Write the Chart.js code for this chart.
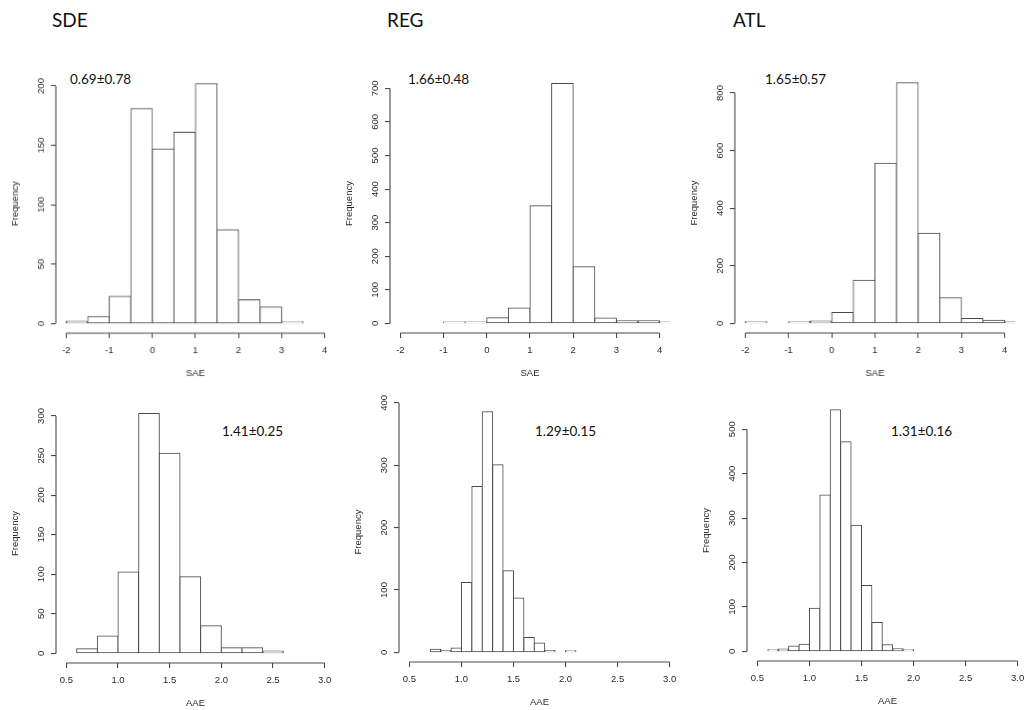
<!DOCTYPE html>
<html><head><meta charset="utf-8">
<script src="https://cdn.jsdelivr.net/npm/chart.js@4.4.1/dist/chart.umd.min.js"></script>
<style>
html,body{margin:0;padding:0;background:#fff;overflow:hidden;width:1026px;height:710px;position:relative}
canvas{position:absolute}
.t{position:absolute;font-family:Lato,'Open Sans',sans-serif;color:#111;white-space:nowrap;line-height:1.2}
</style></head><body>
<div class="t" style="left:52px;top:9px;font-size:19px">SDE</div>
<div class="t" style="left:387px;top:9px;font-size:19px">REG</div>
<div class="t" style="left:733px;top:9px;font-size:19px">ATL</div>
<div class="t" style="left:70px;top:71px;font-size:13.5px">0.69±0.78</div>
<div class="t" style="left:408px;top:71px;font-size:13.5px">1.66±0.48</div>
<div class="t" style="left:765px;top:71px;font-size:13.5px">1.65±0.57</div>
<div class="t" style="left:222px;top:423px;font-size:13.5px">1.41±0.25</div>
<div class="t" style="left:535px;top:423px;font-size:13.5px">1.29±0.15</div>
<div class="t" style="left:891px;top:423px;font-size:13.5px">1.31±0.16</div>
<canvas id="c1"></canvas><canvas id="c2"></canvas><canvas id="c3"></canvas>
<canvas id="c4"></canvas><canvas id="c5"></canvas><canvas id="c6"></canvas>
<script>
// ---- tick values and labels ----
const saeTicks = [-2, -1, 0, 1, 2, 3, 4];
const saeTickLabels = ['-2', '-1', '0', '1', '2', '3', '4'];
const aaeTicks = [0.5, 1.0, 1.5, 2.0, 2.5, 3.0];
const aaeTickLabels = ['0.5', '1.0', '1.5', '2.0', '2.5', '3.0'];

const freqTicksSdeSae = [0, 50, 100, 150, 200];
const freqTicksRegSae = [0, 100, 200, 300, 400, 500, 600, 700];
const freqTicksAtlSae = [0, 200, 400, 600, 800];
const freqTicksSdeAae = [0, 50, 100, 150, 200, 250, 300];
const freqTicksRegAae = [0, 100, 200, 300, 400];
const freqTicksAtlAae = [0, 100, 200, 300, 400, 500];

// ---- histogram bins (lower edges) and counts ----
const sdeSaeBins = [-2, -1.5, -1, -0.5, 0, 0.5, 1, 1.5, 2, 2.5, 3];
const sdeSaeCounts = [2, 6, 23, 181, 147, 161, 202, 79, 20, 14, 1];

const regSaeBins = [-1, -0.5, 0, 0.5, 1, 1.5, 2, 2.5, 3, 3.5, 4];
const regSaeCounts = [1, 3, 17, 46, 350, 714, 169, 16, 8, 8, 1];

const atlSaeBins = [-2, -1.5, -1, -0.5, 0, 0.5, 1, 1.5, 2, 2.5, 3, 3.5, 4];
const atlSaeCounts = [1, 0, 1, 8, 38, 150, 556, 836, 313, 89, 17, 11, 1];

const sdeAaeBins = [0.6, 0.8, 1.0, 1.2, 1.4, 1.6, 1.8, 2.0, 2.2, 2.4];
const sdeAaeCounts = [6, 22, 103, 303, 253, 97, 35, 7, 7, 3];

const regAaeBins = [0.7, 0.8, 0.9, 1.0, 1.1, 1.2, 1.3, 1.4, 1.5, 1.6, 1.7, 1.8, 1.9, 2.0];
const regAaeCounts = [5, 3, 7, 112, 266, 386, 301, 131, 87, 24, 15, 3, 0, 1];

const atlAaeBins = [0.6, 0.7, 0.8, 0.9, 1.0, 1.1, 1.2, 1.3, 1.4, 1.5, 1.6, 1.7, 1.8, 1.9];
const atlAaeCounts = [2, 5, 12, 16, 97, 352, 544, 472, 284, 148, 65, 15, 6, 2];

const binWidthSae = 0.5;
const binWidthSdeAae = 0.2;
const binWidthAae = 0.1;

// ---- panels: layout (plot region in page pixels) ----
const panels = [
  {id:'c1', bins:sdeSaeBins, counts:sdeSaeCounts, bw:binWidthSae, xlim:[-2,4], xTicks:saeTicks, xLabels:saeTickLabels, yTicks:freqTicksSdeSae, xTitle:'SAE', box:{l:55.6,t:73.5,r:335.4,b:333}},
  {id:'c2', bins:regSaeBins, counts:regSaeCounts, bw:binWidthSae, xlim:[-2,4], xTicks:saeTicks, xLabels:saeTickLabels, yTicks:freqTicksRegSae, xTitle:'SAE', box:{l:389.6,t:73.8,r:669.7,b:333}},
  {id:'c3', bins:atlSaeBins, counts:atlSaeCounts, bw:binWidthSae, xlim:[-2,4], xTicks:saeTicks, xLabels:saeTickLabels, yTicks:freqTicksAtlSae, xTitle:'SAE', box:{l:734.6,t:73.2,r:1015.4,b:333}},
  {id:'c4', bins:sdeAaeBins, counts:sdeAaeCounts, bw:binWidthSdeAae, xlim:[0.5,3], xTicks:aaeTicks, xLabels:aaeTickLabels, yTicks:freqTicksSdeAae, xTitle:'AAE', box:{l:56.4,t:403.7,r:335.3,b:663}},
  {id:'c5', bins:regAaeBins, counts:regAaeCounts, bw:binWidthAae, xlim:[0.5,3], xTicks:aaeTicks, xLabels:aaeTickLabels, yTicks:freqTicksRegAae, xTitle:'AAE', box:{l:398.6,t:401.5,r:679.7,b:661.5}},
  {id:'c6', bins:atlAaeBins, counts:atlAaeCounts, bw:binWidthAae, xlim:[0.5,3], xTicks:aaeTicks, xLabels:aaeTickLabels, yTicks:freqTicksAtlAae, xTitle:'AAE', box:{l:747.3,t:400.4,r:1028,b:661.5}}
];

const YW = 56, XH = 48, PT = 12, PR = 12;
const lineCol = '#4a4a4a';
const txtCol = '#2a2a2a';
const tickFont = {family:"'Liberation Sans', Arial, sans-serif", size:9.5};

// draws the R-style axis lines, spanning from first to last tick
const rAxisLines = {
  id:'rAxisLines',
  afterDraw(chart, args, opts) {
    const {ctx, chartArea, scales} = chart;
    const xs = scales.x, ys = scales.y;
    ctx.save();
    ctx.strokeStyle = lineCol;
    ctx.lineWidth = 1.1;
    ctx.beginPath();
    ctx.moveTo(xs.getPixelForValue(opts.xTicks[0]), chartArea.bottom);
    ctx.lineTo(xs.getPixelForValue(opts.xTicks[opts.xTicks.length-1]), chartArea.bottom);
    ctx.moveTo(chartArea.left, ys.getPixelForValue(opts.yTicks[0]));
    ctx.lineTo(chartArea.left, ys.getPixelForValue(opts.yTicks[opts.yTicks.length-1]));
    ctx.stroke();
    ctx.restore();
  }
};

panels.forEach(p => {
  const cv = document.getElementById(p.id);
  const w = (p.box.r - p.box.l) + YW + PR;
  const h = (p.box.b - p.box.t) + PT + XH;
  cv.style.left = (p.box.l - YW) + 'px';
  cv.style.top = (p.box.t - PT) + 'px';
  cv.style.width = w + 'px';
  cv.style.height = h + 'px';
  cv.width = Math.round(w); cv.height = Math.round(h);
  const ymax = Math.max(...p.counts);
  const xr = p.xlim[1] - p.xlim[0];
  new Chart(cv, {
    type:'bar',
    data:{datasets:[{
      data:p.bins.map((b,i)=>({x:b + p.bw/2, y:(p.counts[i] === 0 ? null : p.counts[i])})),
      backgroundColor:'#ffffff',
      borderColor:lineCol,
      borderWidth:1,
      borderSkipped:false,
      inflateAmount:0.5,
      minBarLength:1.5,
      barPercentage:1,
      categoryPercentage:1
    }]},
    options:{
      responsive:false,
      animation:false,
      events:[],
      layout:{padding:{top:PT, right:PR, left:0, bottom:0}},
      plugins:{legend:{display:false}, tooltip:{enabled:false}, rAxisLines:{xTicks:p.xTicks, yTicks:p.yTicks}},
      scales:{
        x:{
          type:'linear',
          offset:false,
          min:p.xlim[0] - 0.04*xr,
          max:p.xlim[1] + 0.04*xr,
          afterBuildTicks:s=>{ s.ticks = p.xTicks.map(v=>({value:v})); },
          afterFit:s=>{ s.height = XH; },
          ticks:{autoSkip:false, maxRotation:0, minRotation:0, padding:7, color:txtCol, font:tickFont,
                 callback:(v,i)=>p.xLabels[i]},
          grid:{display:true, offset:false, drawOnChartArea:false, drawTicks:true, tickLength:5, color:lineCol, lineWidth:1.1},
          border:{display:false},
          title:{display:true, text:p.xTitle, color:txtCol, font:tickFont, padding:{top:0,bottom:2.3}}
        },
        y:{
          type:'linear',
          min:-0.04*ymax,
          max:1.04*ymax,
          afterBuildTicks:s=>{ s.ticks = p.yTicks.map(v=>({value:v})); },
          afterFit:s=>{ s.width = YW; },
          ticks:{autoSkip:false, minRotation:90, maxRotation:90, crossAlign:'center', padding:2, color:txtCol, font:tickFont,
                 callback:(v,i)=>String(p.yTicks[i])},
          grid:{display:true, drawOnChartArea:false, drawTicks:true, tickLength:5, color:lineCol, lineWidth:1.1},
          border:{display:false},
          title:{display:true, text:'Frequency', color:txtCol, font:tickFont, padding:{top:9.3,bottom:0}}
        }
      }
    },
    plugins:[rAxisLines]
  });
});
</script>
</body></html>
